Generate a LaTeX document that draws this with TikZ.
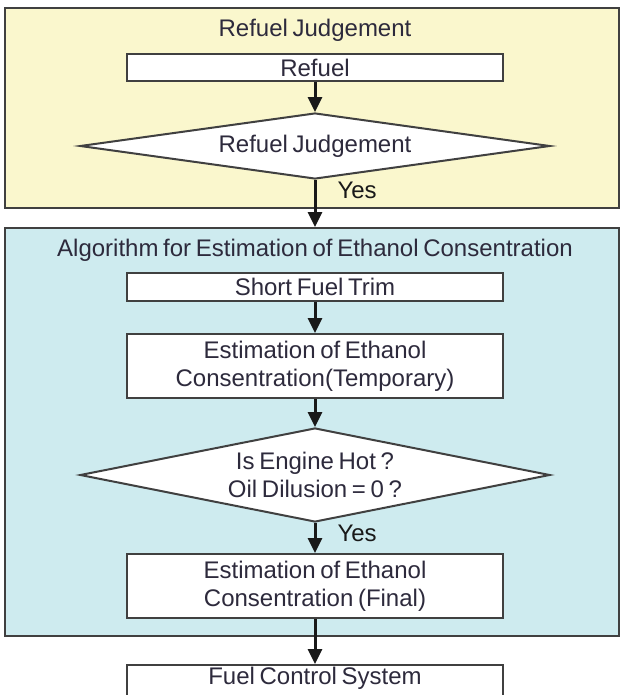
\documentclass[tikz,border=0pt]{standalone}
\usepackage{xcolor}
\usepackage{fontspec}
\setmainfont{Liberation Sans}[WordSpace=0.7]
\usetikzlibrary{
  shapes.geometric,
  arrows.meta}
\definecolor{refuelbg}{RGB}{250,247,205}
\definecolor{algobg}{RGB}{206,235,239}
\definecolor{ink}{RGB}{45,42,60}

\begin{document}
\begin{tikzpicture}[x=1pt,y=-1pt,
  font=\fontsize{24}{28}\selectfont,
  text=ink,
  panel/.style={draw=black!75,line width=2pt,inner sep=0pt},
  stepbox/.style={draw=black!75,fill=white,line width=2pt,
    minimum width=376pt,align=center,inner sep=0pt},
  judge/.style={diamond,aspect=5.5,draw=black!75,fill=white,line width=2pt,
    minimum width=470pt,align=center,inner sep=0pt},
  flow/.style={line width=3pt,black!90,-{Triangle[width=14pt,length=15pt]}},
  yes/.style={right,inner sep=0pt,xshift=21pt}]
  \useasboundingbox (0,0) rectangle (621,695);
  \clip (0,0) rectangle (621,695);

  % refuel part
  \node[panel,fill=refuelbg,minimum width=614pt,minimum height=200pt]
    (refuelpanel) at (312,108) {};
  \node[anchor=base] (refueltitle) at (315,37) {Refuel Judgement};
  \node[stepbox,minimum height=27pt] (refuel) at (315,67.5) {Refuel};
  \node[judge,minimum height=66pt] (refueljudge) at (315,146) {Refuel Judgement};

  % estimation part
  \node[panel,fill=algobg,minimum width=614pt,minimum height=408pt]
    (algopanel) at (312,432) {};
  \node[anchor=base] (algotitle) at (315,256)
    {Algorithm for Estimation of Ethanol Consentration};
  \node[stepbox,minimum height=28pt] (trim) at (315,287) {Short Fuel Trim};
  \node[stepbox,minimum height=64pt] (temp) at (315,366)
    {Estimation of Ethanol\\Consentration(Temporary)};
  \node[judge,minimum height=94pt] (hot) at (315,475)
    {Is Engine Hot ?\\Oil Dilusion = 0 ?};
  \node[stepbox,minimum height=64pt] (final) at (315,586)
    {Estimation of Ethanol\\Consentration (Final)};

  % output
  \node[stepbox,anchor=north,text height=19pt,text depth=40pt] (fuelctrl)
    at (315,664) {Fuel Control System};

  \draw[flow] (refuel) -- (refueljudge);
  \draw[flow] (refueljudge) -- node[yes,pos=0.23] {Yes}
    (algopanel.north -| refueljudge);
  \draw[flow] (trim) -- (temp);
  \draw[flow] (temp) -- (hot);
  \draw[flow] (hot) -- node[yes,pos=0.36] {Yes} (final);
  \draw[flow] (final) -- (fuelctrl);
\end{tikzpicture}
\end{document}
